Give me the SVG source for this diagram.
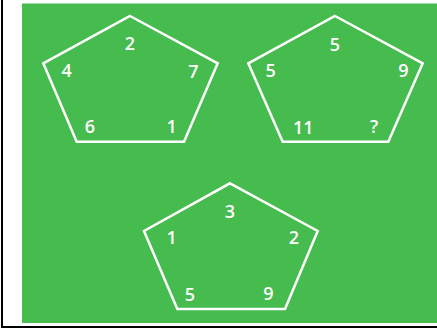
<svg xmlns="http://www.w3.org/2000/svg" width="437" height="329" viewBox="0 0 437 329">
<style>
.pent{fill:none;stroke:#ffffff;stroke-width:2.5;stroke-linejoin:miter}
.lbl{font-family:"Open Sans",Lato,"DejaVu Sans",sans-serif;font-weight:600;font-size:18px;fill:#ffffff;text-anchor:middle}
</style>
<rect x="0" y="0" width="437" height="329" fill="#ffffff"/>
<rect x="22" y="3.5" width="415" height="319.5" fill="#46bb4e"/>
<line x1="2" y1="0" x2="2" y2="327" stroke="#000" stroke-width="2"/>
<line x1="1" y1="327" x2="437" y2="327" stroke="#000" stroke-width="2"/>
<g id="pentagon1">
<polygon class="pent" points="130,16 217.7,63.3 184,141.7 76.7,141.7 43.3,63.3"/>
<text class="lbl" x="130" y="50">2</text>
<text class="lbl" x="66.7" y="76.5">4</text>
<text class="lbl" x="193.3" y="78">7</text>
<text class="lbl" x="90" y="133">6</text>
<text class="lbl" x="171.7" y="133">1</text>
</g>
<g id="pentagon2">
<polygon class="pent" points="335,16 422.7,63.3 388.3,141.7 282.7,141.7 248.3,63.3"/>
<text class="lbl" x="335" y="51">5</text>
<text class="lbl" x="270.7" y="76.5">5</text>
<text class="lbl" x="403.3" y="76.5">9</text>
<text class="lbl" x="303.3" y="134">11</text>
<text class="lbl" x="374" y="133">?</text>
</g>
<g id="pentagon3">
<polygon class="pent" points="230,183.3 317.7,231 285,309 177.3,309 144,231"/>
<text class="lbl" x="230" y="217.5">3</text>
<text class="lbl" x="171.7" y="244">1</text>
<text class="lbl" x="294" y="244">2</text>
<text class="lbl" x="190" y="300.5">5</text>
<text class="lbl" x="268.3" y="300">9</text>
</g>
<g id="connectors"></g>
</svg>
